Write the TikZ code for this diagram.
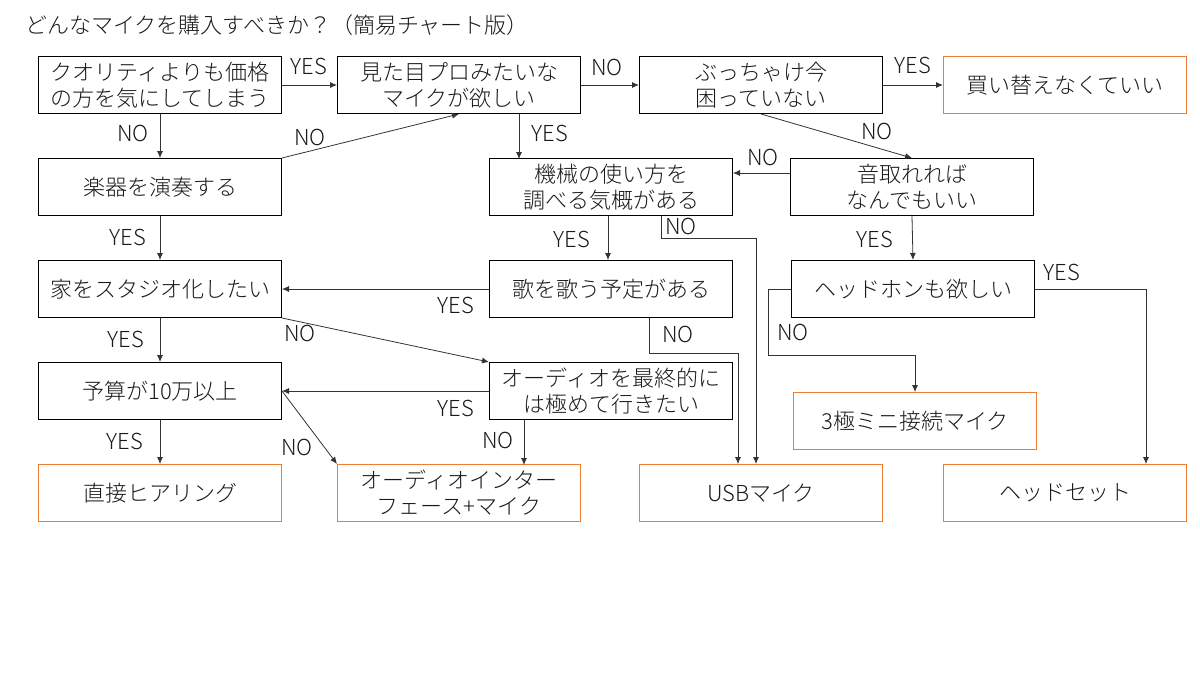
\documentclass[tikz,border=0pt]{standalone}
\usepackage{fontspec}
\IfFontExistsTF{Noto Sans CJK JP Light}
	{\newfontfamily\jpfont{Noto Sans CJK JP Light}}
	{\newfontfamily\jpfont{Noto Sans CJK JP}}
\usepackage{tikz}
\usetikzlibrary{positioning}
\usetikzlibrary{arrows.meta}
\definecolor{ansorange}{HTML}{ED7D31}

\begin{document}
\begin{tikzpicture}[x=1pt,y=-1pt,
		q/.style={draw=black,line width=1pt,rectangle,minimum width=243pt,minimum height=57pt,inner sep=0pt,align=center,text=black!90,font=\jpfont\fontsize{22}{26}\selectfont},
		ans/.style={q,draw=ansorange},
		lbl/.style={inner sep=0pt,text=black!90,font=\jpfont\fontsize{22}{26}\selectfont},
		arr/.style={-{Latex[length=7pt,width=6pt]},line width=0.8pt,draw=black!80}]
		\useasboundingbox (0,0) rectangle (1200,675);
		\node[lbl,anchor=west] at (25,25) (title) {どんなマイクを購入すべきか？（簡易チャート版）};
		\node[q] at (160,85) (a) {クオリティよりも価格\\の方を気にしてしまう};
		\node[q,right = 55pt of a] (b) {見た目プロみたいな\\マイクが欲しい};
		\node[q,right = 58pt of b] (c) {ぶっちゃけ今\\困っていない};
		\node[ans,right = 60pt of c] (d) {買い替えなくていい};
		\node[q,below = 44pt of a] (e) {楽器を演奏する};
		\node[q,below = 44pt of e] (h) {家をスタジオ化したい};
		\node[q,below = 44pt of h] (k) {予算が10万以上};
		\node[ans,below = 44pt of k] (n) {直接ヒアリング};
		\node[q] at (611,187) (f) {機械の使い方を\\調べる気概がある};
		\node[q] at (912,187) (g) {音取れれば\\なんでもいい};
		\node[q] at (611,289) (i) {歌を歌う予定がある};
		\node[q] at (913,289) (j) {ヘッドホンも欲しい};
		\node[q] at (611,391) (l) {オーディオを最終的に\\は極めて行きたい};
		\node[ans] at (915,421) (m) {3極ミニ接続マイク};
		\node[ans] at (459,493) (o) {オーディオインター\\フェース+マイク};
		\node[ans] at (761,493) (p) {USBマイク};
		\node[ans] at (1065,493) (qq) {ヘッドセット};
		\draw[arr] (a.east) -- (b.west) node[lbl] (ab) at (309,66) {YES};
		\draw[arr] (b.east) -- (c.west) node[lbl] (bc) at (607,67) {NO};
		\draw[arr] (c.east) -- (d.west) node[lbl] (cd) at (913,65) {YES};
		\draw[arr] (a.south) -- (e.north) node[lbl] (ae) at (133,133) {NO};
		\draw[arr] (e.north east) -- (b.south) node[lbl] (eb) at (310,137) {NO};
		\draw[arr] ([xshift=60pt]b.south) -- ++(0,45) node[lbl] (bf) at (550,133) {YES};
		\draw[arr] (c.south) -- (g.north) node[lbl] (cg) at (877,131) {NO};
		\draw[arr] ([yshift=14pt]g.west) -- ([yshift=14pt]f.east) node[lbl] (gf) at (763,157) {NO};
		\draw[arr] (e.south) -- (h.north) node[lbl] (eh) at (128,237) {YES};
		\draw[arr] ([xshift=-3pt]f.south) -- ([xshift=-3pt]i.north) node[lbl] (fi) at (572,239) {YES};
		\draw[arr] ([xshift=50pt]f.south) -- ++(0,22) -| ([xshift=-5pt]p.north) node[lbl] (fp) at (681,226) {NO};
		\draw[arr] (g.south) -- (j.north) node[lbl] (gj) at (875,239) {YES};
		\draw[arr] (i.west) -- (h.east) node[lbl] (ih) at (456,305) {YES};
		\draw[arr] (j.west) -- ++(-23,0) -- ++(0,66) -| (m.north) node[lbl] (jm) at (793,332) {NO};
		\draw[arr] (j.east) -| ([xshift=81pt]qq.north) node[lbl] (jq) at (1062,272) {YES};
		\draw[arr] (h.south) -- (k.north) node[lbl] (hk) at (126,339) {YES};
		\draw[arr] (h.south east) -- (l.north west) node[lbl] (hl) at (300,333) {NO};
		\draw[arr] ([xshift=38pt]i.south) -- ++(0,35) -| ([xshift=-23pt]p.north) node[lbl] (ip) at (678,334) {NO};
		\draw[arr] (l.west) -- (k.east) node[lbl] (lk) at (456,408) {YES};
		\draw[arr] ([xshift=-87pt]l.south) -- ++(0,45) node[lbl] (lo) at (498,440) {NO};
		\draw[arr] (k.south) -- (n.north) node[lbl] (kn) at (125,441) {YES};
		\draw[arr] (k.east) -- (o.north west) node[lbl] (ko) at (297,447) {NO};
	\end{tikzpicture}
\end{document}
